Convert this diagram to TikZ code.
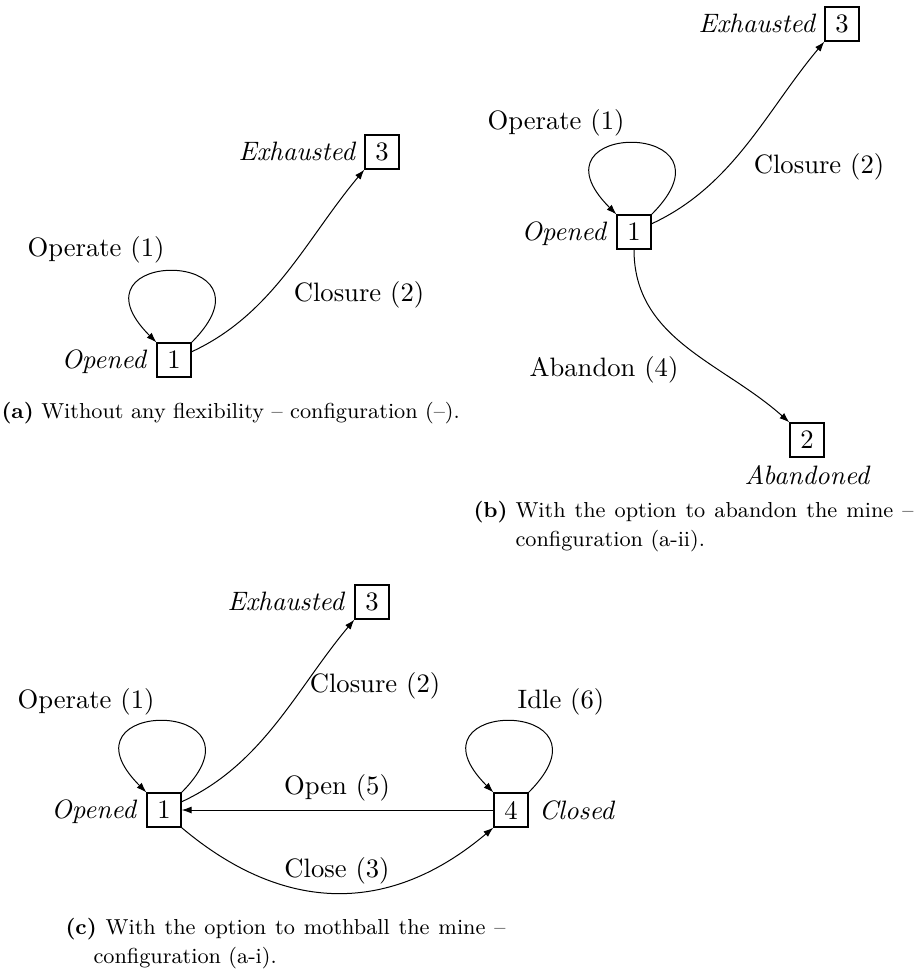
\documentclass[tikz,border=0pt]{standalone}
\usetikzlibrary{arrows.meta}
\newcommand\lblfont{\fontsize{10.65pt}{12.8pt}\selectfont}
\newcommand\capfont{\fontsize{8.67pt}{11.8pt}\selectfont}
\tikzset{
  stbox/.style={draw, line width=0.8pt, minimum size=13.3pt, inner sep=0pt, font=\lblfont},
  stname/.style={font=\lblfont\itshape, inner sep=0pt},
  elab/.style={font=\lblfont, inner sep=0pt, anchor=base},
  edge/.style={line width=0.4pt, -{Latex[length=4pt,width=2.8pt]}},
  capt/.style={font=\capfont, inner sep=0pt, anchor=base west}
}
\begin{document}
\begin{tikzpicture}[x=0.4pt,y=-0.4pt]
\useasboundingbox (0,0) rectangle (918,971);

% ---------- panel (a)
\node[stbox] (a1) at (174,360) {1};
\node[stbox] (a3) at (382,152) {3};
\node[stname, anchor=base east] (a1n) at ([xshift=-4pt]a1.base west) {Opened};
\node[stname, anchor=base east] (a3n) at ([xshift=-3.6pt]a3.base west) {Exhausted};
\draw[edge] (a1.north east) .. controls +(95,-95) and +(-95,-95) .. (a1.north west);
\draw[edge] (a1.25) .. controls +(82,-38) and +(-58,69) .. (a3.south west);
\node[elab] (a1l) at (96,257) {Operate (1)};
\node[elab] (a2l) at (359,302) {Closure (2)};
\node[capt] (acap) at (1,418) {\textbf{(a)} Without any flexibility -- configuration (--).};

% ---------- panel (b)
\node[stbox] (b1) at (634,232) {1};
\node[stbox] (b3) at (842,24) {3};
\node[stbox] (b2) at (807,440) {2};
\node[stname, anchor=base east] (b1n) at ([xshift=-4pt]b1.base west) {Opened};
\node[stname, anchor=base east] (b3n) at ([xshift=-3.6pt]b3.base west) {Exhausted};
\node[stname, anchor=base] (b2n) at (807,484) {Abandoned};
\draw[edge] (b1.north east) .. controls +(95,-95) and +(-95,-95) .. (b1.north west);
\draw[edge] (b1.25) .. controls +(82,-38) and +(-58,69) .. (b3.south west);
\draw[edge] (b1.south) .. controls +(0,90) and +(-67,-60) .. (b2.north west);
\node[elab] (b1l) at (556,130) {Operate (1)};
\node[elab] (b2l) at (819,174) {Closure (2)};
\node[elab] (b4l) at (604,376) {Abandon (4)};
\node[capt] (bcap) at (473,517) {\parbox[t]{176pt}{\hangindent=16.8pt\hangafter=1\noindent\makebox[16.8pt][l]{\textbf{(b)}}With the option to abandon the mine --\linebreak configuration (a-ii).}};

% ---------- panel (c)
\node[stbox] (c1) at (164,810) {1};
\node[stbox] (c3) at (372,602) {3};
\node[stbox] (c4) at (511,810) {4};
\node[stname, anchor=base east] (c1n) at ([xshift=-4pt]c1.base west) {Opened};
\node[stname, anchor=base east] (c3n) at ([xshift=-4pt]c3.base west) {Exhausted};
\node[stname, anchor=base west] (c4n) at ([xshift=4pt]c4.base east) {Closed};
\draw[edge] (c1.north east) .. controls +(95,-95) and +(-95,-95) .. (c1.north west);
\draw[edge] (c4.north east) .. controls +(95,-95) and +(-95,-95) .. (c4.north west);
\draw[edge] (c1.25) .. controls +(82,-38) and +(-58,69) .. (c3.south west);
\draw[edge] (c4.west) -- (c1.east);
\draw[edge] (c1.south east) .. controls +(103,87) and +(-103,87) .. (c4.south west);
\node[elab] (c1l) at (86,708) {Operate (1)};
\node[elab] (c2l) at (375,692) {Closure (2)};
\node[elab] (c6l) at (561,708) {Idle (6)};
\node[elab] (c5l) at (337,794) {Open (5)};
\node[elab] (c3l) at (337,877) {Close (3)};
\node[capt] (ccap) at (65,934) {\parbox[t]{176pt}{\hangindent=11.2pt\hangafter=1\noindent\textbf{(c)}\ With the option to mothball the mine --\linebreak configuration (a-i).}};
\end{tikzpicture}
\end{document}
